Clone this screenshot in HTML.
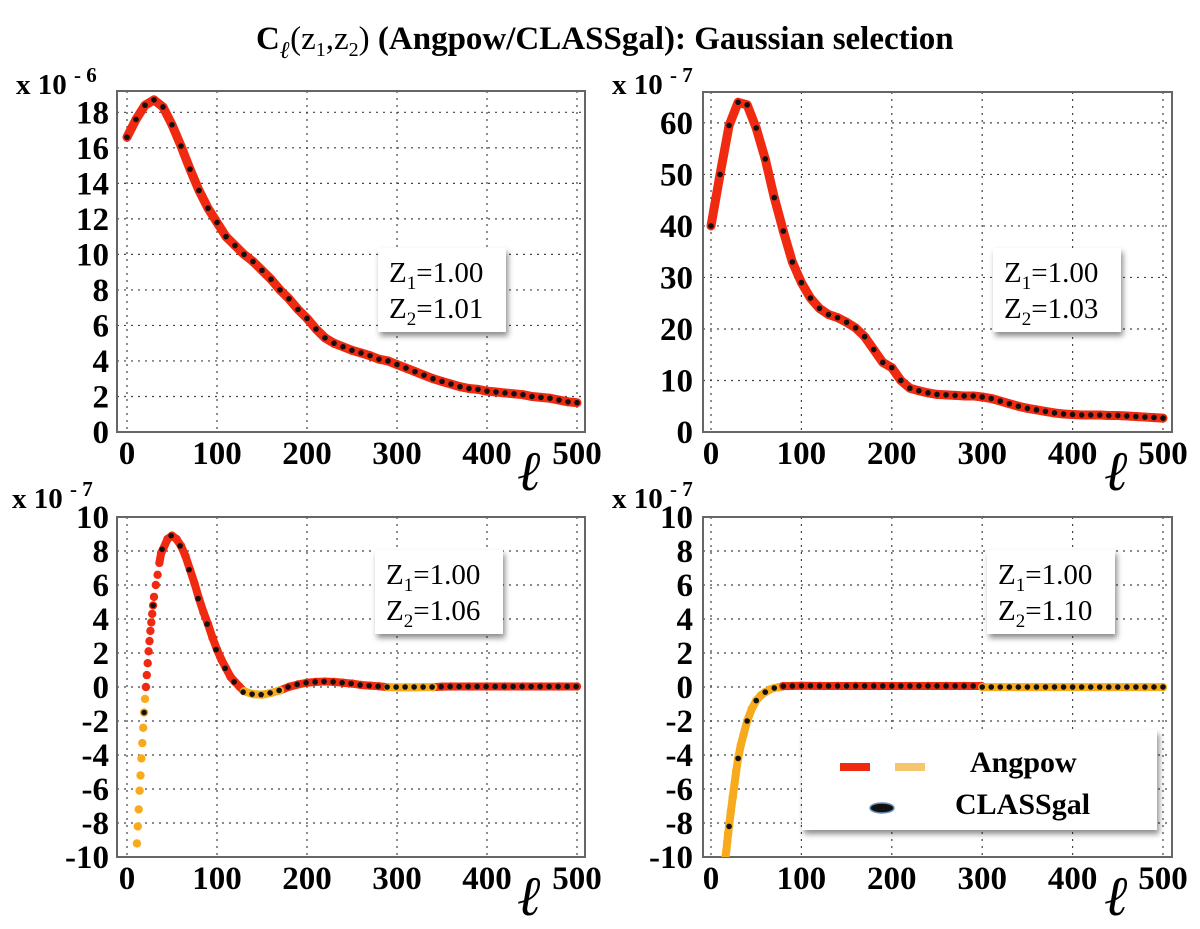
<!DOCTYPE html>
<html><head><meta charset="utf-8"><style>
html,body{margin:0;padding:0;background:#fff;}
svg{display:block;font-family:"Liberation Serif",serif;}
svg text{font-family:"Liberation Serif",serif;}
.tk{font-weight:bold;font-size:33px;fill:#000;}
.ann{font-size:29px;fill:#000;}
</style></head><body>
<svg id="fig" width="1200" height="929" viewBox="0 0 1200 929" xmlns="http://www.w3.org/2000/svg">
<defs>
<filter id="sh" x="-10%" y="-10%" width="130%" height="140%"><feDropShadow dx="2" dy="4" stdDeviation="3" flood-color="#000" flood-opacity="0.45"/></filter>
</defs>
<text x="256" y="49" font-size="33" font-weight="bold" font-family="Liberation Serif, serif">C<tspan font-style="italic" font-size="24" dy="9">ℓ</tspan><tspan dy="-9" font-weight="normal">(z</tspan><tspan font-size="20" dy="7" font-weight="normal">1</tspan><tspan dy="-7" font-weight="normal">,z</tspan><tspan font-size="20" dy="7" font-weight="normal">2</tspan><tspan dy="-7" font-weight="normal">)</tspan> (Angpow/CLASSgal): Gaussian selection</text>
<g id="panels"></g>
</svg>
<script>
// ---- Panel 1 (z2=1.01), units 1e-6 ----
const p1AngL = [0,10,20,30,40,50,60,70,80,90,100,110,120,130,140,150,160,170,180,190,200,210,220,230,240,250,260,270,280,290,300,310,320,330,340,350,360,370,380,390,400,410,420,430,440,450,460,470,480,490,500];
const p1AngV = [16.6,17.6,18.4,18.7,18.3,17.3,16.1,14.8,13.6,12.6,11.8,11.0,10.5,10.0,9.6,9.1,8.6,8.0,7.5,6.9,6.4,5.8,5.3,5.0,4.8,4.6,4.45,4.3,4.1,4.0,3.8,3.6,3.4,3.2,3.0,2.85,2.7,2.55,2.45,2.4,2.3,2.25,2.2,2.15,2.1,2.0,1.95,1.9,1.8,1.7,1.65];
const p1ClsL = p1AngL;
const p1ClsV = p1AngV;
const p1YTicks = [0,2,4,6,8,10,12,14,16,18];
// ---- Panel 2 (z2=1.03), units 1e-7 ----
const p2AngL = [0,10,20,30,40,50,60,70,80,90,100,110,120,130,140,150,160,170,180,190,200,210,220,230,240,250,260,270,280,290,300,310,320,330,340,350,360,370,380,390,400,410,420,430,440,450,460,470,480,490,500];
const p2AngV = [40,50,59.5,64,63.5,59,53,45.5,39,33,29,26,24,22.8,22.2,21.3,20.2,18.5,16,13.5,12.5,10,8.5,8,7.6,7.3,7.2,7.1,7.0,7.0,6.8,6.5,6.0,5.5,5.0,4.6,4.3,4.0,3.7,3.5,3.4,3.3,3.3,3.3,3.2,3.2,3.1,3.0,2.9,2.8,2.7];
const p2ClsL = p2AngL;
const p2ClsV = p2AngV;
const p2YTicks = [0,10,20,30,40,50,60];
// ---- Panel 3 (z2=1.06), units 1e-7 ----
const p3AngL = [11,12,13,14,15,16,17,18,19,20,21,22,23,24,25,26,27,28,29,30,32,34,36,38,40,45,50,55,60,65,70,75,80,85,90,95,100,105,110,115,120,125,130,140,150,160,170,180,190,200,210,220,230,240,250,260,270,280,290,300,310,320,330,340,350,360,380,400,420,440,460,480,500];
const p3AngV = [-9.2,-8.2,-7.2,-6.1,-5.2,-4.2,-3.3,-2.4,-1.5,-0.7,0.0,0.7,1.4,2.1,2.7,3.3,3.8,4.3,4.8,5.3,6.0,6.6,7.3,7.9,8.1,8.7,8.9,8.7,8.3,7.7,6.9,6.1,5.2,4.4,3.7,2.9,2.2,1.6,1.1,0.6,0.3,0.02,-0.25,-0.42,-0.45,-0.35,-0.2,0.01,0.15,0.25,0.3,0.32,0.3,0.25,0.2,0.12,0.08,0.04,-0.01,-0.02,-0.02,-0.02,-0.01,-0.01,0.02,0.03,0.03,0.03,0.03,0.03,0.03,0.03,0.03];
const p3ClsL = [19,29,39,49,59,69,79,89,99,109,119,129,139,149,159,169,179,189,199,209,219,229,239,249,259,269,279,289,299,309,319,329,339,349,359,369,379,389,399,409,419,429,439,449,459,469,479,489,499];
const p3ClsV = [-1.5,4.8,8.1,8.9,8.3,6.9,5.2,3.7,2.2,1.1,0.3,-0.3,-0.42,-0.45,-0.35,-0.2,0.0,0.15,0.25,0.3,0.32,0.3,0.25,0.2,0.12,0.08,0.04,0,0,0,0,0,0,0.02,0.03,0.03,0.03,0.03,0.03,0.03,0.03,0.03,0.03,0.03,0.03,0.03,0.03,0.03,0.03];
const p3YTicks = [-10,-8,-6,-4,-2,0,2,4,6,8,10];
// ---- Panel 4 (z2=1.10), units 1e-7 ----
const p4AngL = [15,16,17,18,19,20,22,24,26,28,30,33,36,40,45,50,55,60,65,70,75,80,90,100,120,140,160,180,200,220,240,260,280,299,300,320,340,360,380,400,420,440,460,480,500];
const p4AngV = [-10.6,-10.0,-9.6,-9.1,-8.6,-8.2,-7.3,-6.5,-5.7,-4.9,-4.2,-3.4,-2.8,-2.0,-1.3,-0.8,-0.5,-0.3,-0.15,-0.06,-0.01,0.05,0.06,0.07,0.06,0.06,0.06,0.06,0.06,0.06,0.06,0.06,0.06,0.06,-0.01,-0.01,-0.01,-0.01,-0.01,-0.01,-0.01,-0.01,-0.01,-0.01,-0.01];
const p4ClsL = [20,30,40,50,60,70,80,90,100,110,120,130,140,150,160,170,180,190,200,210,220,230,240,250,260,270,280,290,300,310,320,330,340,350,360,370,380,390,400,410,420,430,440,450,460,470,480,490,500];
const p4ClsV = [-8.2,-4.2,-2.0,-0.8,-0.3,-0.06,0.05,0.06,0.07,0.07,0.06,0.06,0.06,0.06,0.06,0.06,0.06,0.06,0.06,0.06,0.06,0.06,0.06,0.06,0.06,0.06,0.06,0.06,0,0,0,0,0,0,0,0,0,0,0,0,0,0,0,0,0,0,0,0,0];
const p4YTicks = [-10,-8,-6,-4,-2,0,2,4,6,8,10];
const xTicks = [0,100,200,300,400,500];

const NS = 'http://www.w3.org/2000/svg';
const root = document.getElementById('panels');
const SERIF = 'Liberation Serif, serif';
function mk(tag, attrs, parent){
  const e = document.createElementNS(NS, tag);
  for (const k in attrs) e.setAttribute(k, attrs[k]);
  if (tag === 'text') e.setAttribute('font-family', SERIF);
  (parent||root).appendChild(e);
  return e;
}
const RED = '#f02a10', ORG = '#f7ab1c';

function panel(cfg){
  const g = mk('g', {});
  
  
  const X = l => cfg.x0 + (l/500)*(cfg.x5 - cfg.x0);
  const Y = v => cfg.yb - (v - cfg.ymin)/(cfg.ymax - cfg.ymin)*(cfg.yb - cfg.yt);
  const clip = 'clip-' + cfg.name;
  const cp = mk('clipPath', {id: clip}, g);
  mk('rect', {x: cfg.fl, y: cfg.yt, width: cfg.fr - cfg.fl, height: cfg.yb - cfg.yt}, cp);
  for (const t of xTicks){
    const l = mk('line', {x1: X(t), x2: X(t), y1: cfg.yt, y2: cfg.yb, stroke: '#444', 'stroke-width': 1.2, 'stroke-dasharray': '2,5'}, g);
    
    
    const tx = mk('text', {x: X(t), y: cfg.xlab, 'text-anchor': 'middle', class: 'tk'}, g);
    
    
    tx.textContent = t;
  }
  for (const t of cfg.yt_) {
    const l = mk('line', {x1: cfg.fl, x2: cfg.fr, y1: Y(t), y2: Y(t), stroke: '#444', 'stroke-width': 1.2, 'stroke-dasharray': '2,5'}, g);
    
    
    const tx = mk('text', {x: cfg.ylab, y: Y(t) + 11, 'text-anchor': 'end', class: 'tk'}, g);
    
    
    tx.textContent = t;
  }
  const fr = mk('rect', {x: cfg.fl, y: cfg.yt, width: cfg.fr - cfg.fl, height: cfg.yb - cfg.yt, fill: 'none', stroke: '#666', 'stroke-width': 2}, g);
  
  
  const sg = mk('g', {'clip-path': 'url(#' + clip + ')'}, g);
  
  
  for (let i = 0; i < cfg.aL.length - 1; i++){
    if (cfg.aL[i] < cfg.lineFrom) continue;
    const c = (cfg.aV[i] < 0 && cfg.aV[i+1] <= 0.001) ? ORG : RED;
    const s = mk('line', {x1: X(cfg.aL[i]), y1: Y(cfg.aV[i]), x2: X(cfg.aL[i+1]), y2: Y(cfg.aV[i+1]), stroke: c, 'stroke-width': cfg.lw, 'stroke-linecap': 'round'}, sg);
    
    
  }
  for (let i = 0; i < cfg.aL.length; i++){
    const c = cfg.aV[i] < 0 ? ORG : RED;
    const d = mk('circle', {cx: X(cfg.aL[i]), cy: Y(cfg.aV[i]), r: 4.2, fill: c}, sg);
    
    
  }
  const cg = mk('g', {'clip-path': 'url(#' + clip + ')'}, g);
  
  
  for (let i = 0; i < cfg.cL.length; i++){
    const d = mk('circle', {cx: X(cfg.cL[i]), cy: Y(cfg.cV[i]), r: 2.8, fill: '#111'}, cg);
    
    
  }
  const ex = mk('text', {x: cfg.exx, y: cfg.exy, 'font-weight': 'bold', 'font-size': 29}, g);
  
  
  ex.innerHTML = 'x 10 <tspan dy="-12" font-size="21">- ' + cfg.exp + '</tspan>';
  const el = mk('text', {x: cfg.fr - 68, y: cfg.yb + 58, 'font-size': 56, 'font-style': 'italic'}, g);
  
  
  el.textContent = 'ℓ';
  const bg = mk('g', {}, g);
  
  
  mk('rect', {x: cfg.bx, y: cfg.by, width: 128, height: 84, fill: '#fff', filter: 'url(#sh)'}, bg);
  const t1 = mk('text', {x: cfg.bx + 11, y: cfg.by + 34, class: 'ann'}, bg);
  t1.innerHTML = 'Z<tspan font-size="19" dy="7">1</tspan><tspan dy="-7">=1.00</tspan>';
  const t2 = mk('text', {x: cfg.bx + 11, y: cfg.by + 70, class: 'ann'}, bg);
  t2.innerHTML = 'Z<tspan font-size="19" dy="7">2</tspan><tspan dy="-7">=' + cfg.z2 + '</tspan>';
}

panel({name:'panel-z2-101', fl:117, fr:585, x0:127, x5:577, yt:91, yb:432, ymin:0, ymax:19.2, yt_:p1YTicks, ylab:109, xlab:464, aL:p1AngL, aV:p1AngV, cL:p1ClsL, cV:p1ClsV, lw:9, lineFrom:0, exx:16, exy:94, exp:'6', bx:378, by:248, z2:'1.01'});
panel({name:'panel-z2-103', fl:703, fr:1172, x0:711, x5:1163, yt:92, yb:432, ymin:0, ymax:66, yt_:p2YTicks, ylab:693, xlab:464, aL:p2AngL, aV:p2AngV, cL:p2ClsL, cV:p2ClsV, lw:9, lineFrom:0, exx:612, exy:94, exp:'7', bx:993, by:248, z2:'1.03'});
panel({name:'panel-z2-106', fl:117, fr:585, x0:127, x5:577, yt:517, yb:857, ymin:-10, ymax:10, yt_:p3YTicks, ylab:109, xlab:889, aL:p3AngL, aV:p3AngV, cL:p3ClsL, cV:p3ClsV, lw:8, lineFrom:36, exx:12, exy:508, exp:'7', bx:375, by:550, z2:'1.06'});
panel({name:'panel-z2-110', fl:703, fr:1172, x0:711, x5:1163, yt:517, yb:857, ymin:-10, ymax:10, yt_:p4YTicks, ylab:693, xlab:889, aL:p4AngL, aV:p4AngV, cL:p4ClsL, cV:p4ClsV, lw:8, lineFrom:0, exx:612, exy:508, exp:'7', bx:987, by:550, z2:'1.10'});

const lg = mk('g', {});


mk('rect', {x: 802, y: 730, width: 355, height: 100, fill: '#fff', filter: 'url(#sh)'}, lg);
const r1 = mk('rect', {x: 840, y: 763, width: 30, height: 8, fill: RED}, lg);


const r2 = mk('rect', {x: 895, y: 763, width: 30, height: 8, fill: '#f5c66f'}, lg);


const lt1 = mk('text', {x: 970, y: 772, 'font-weight': 'bold', 'font-size': 30}, lg);


lt1.textContent = 'Angpow';
const e1 = mk('ellipse', {cx: 882, cy: 808, rx: 12, ry: 5, fill: '#111', stroke: '#6a8fb5', 'stroke-width': 1.5}, lg);


const lt2 = mk('text', {x: 955, y: 814, 'font-weight': 'bold', 'font-size': 30}, lg);


lt2.textContent = 'CLASSgal';
</script>
</body></html>
